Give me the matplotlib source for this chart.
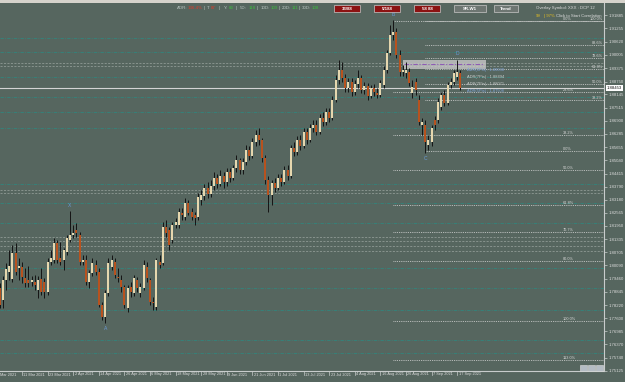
import matplotlib
matplotlib.use("Agg")
import matplotlib.pyplot as plt
import matplotlib.transforms as mtransforms
from matplotlib.patches import Rectangle
import pandas as pd

W, H = 625, 382
BG = "#56665f"

# GBPAUD daily candles, 2 Mar .. 20 Sep 2021
opens = [
    1.7903, 1.7846, 1.7940, 1.7978, 1.7945, 1.8068, 1.7997, 1.8002, 1.7950, 1.7940,
    1.7931, 1.7931, 1.7893, 1.7945, 1.7931, 1.7884, 1.8025, 1.8035, 1.8115, 1.8044,
    1.8035, 1.8072, 1.8129, 1.8152, 1.8176, 1.8152, 1.8025, 1.8035, 1.7931, 1.7973,
    1.8011, 1.7978, 1.7823, 1.7766, 1.7879, 1.8002, 1.8025, 1.7954, 1.7940, 1.7907,
    1.7808, 1.7907, 1.7879, 1.7940, 1.7879, 1.7903, 1.8002, 1.7940, 1.7837, 1.7813,
    1.8025, 1.8020, 1.8190, 1.8176, 1.8129, 1.8199, 1.8199, 1.8256, 1.8237, 1.8303,
    1.8261, 1.8247, 1.8237, 1.8317, 1.8336, 1.8374, 1.8346, 1.8383, 1.8421, 1.8393,
    1.8430, 1.8402, 1.8449, 1.8421, 1.8468, 1.8506, 1.8458, 1.8496, 1.8553, 1.8524,
    1.8590, 1.8623, 1.8600, 1.8515, 1.8411, 1.8341, 1.8397, 1.8374, 1.8421, 1.8402,
    1.8458, 1.8430, 1.8562, 1.8543, 1.8600, 1.8571, 1.8637, 1.8600, 1.8656, 1.8670,
    1.8637, 1.8703, 1.8685, 1.8732, 1.8703, 1.8788, 1.8882, 1.8930, 1.8892, 1.8845,
    1.8873, 1.8826, 1.8864, 1.8892, 1.8835, 1.8854, 1.8807, 1.8845, 1.8821, 1.8812,
    1.8859, 1.8930, 1.9010, 1.9094, 1.9109, 1.9000, 1.8920, 1.8915, 1.8920, 1.8821,
    1.8873, 1.8788, 1.8670, 1.8670, 1.8576, 1.8590, 1.8694, 1.8694, 1.8755, 1.8812,
    1.8774, 1.8859, 1.8873, 1.8897, 1.8915,
]
closes = [
    1.7823, 1.7940, 1.7992, 1.8006, 1.8068, 1.7978, 1.8006, 1.7954, 1.7926, 1.7926,
    1.7940, 1.7917, 1.7940, 1.7884, 1.7884, 1.8025, 1.8044, 1.8115, 1.8035, 1.8025,
    1.8082, 1.8138, 1.8152, 1.8162, 1.8162, 1.8025, 1.8035, 1.7931, 1.7973, 1.8020,
    1.7978, 1.7823, 1.7766, 1.7879, 1.8020, 1.8035, 1.7964, 1.7950, 1.7907, 1.7823,
    1.7903, 1.7884, 1.7950, 1.7903, 1.7907, 1.8011, 1.7950, 1.7837, 1.7832, 1.8035,
    1.8011, 1.8190, 1.8162, 1.8105, 1.8199, 1.8214, 1.8261, 1.8247, 1.8303, 1.8256,
    1.8237, 1.8232, 1.8331, 1.8341, 1.8374, 1.8346, 1.8383, 1.8421, 1.8393, 1.8430,
    1.8402, 1.8449, 1.8421, 1.8468, 1.8506, 1.8458, 1.8496, 1.8553, 1.8524, 1.8590,
    1.8623, 1.8600, 1.8515, 1.8411, 1.8341, 1.8397, 1.8374, 1.8421, 1.8402, 1.8458,
    1.8430, 1.8562, 1.8543, 1.8600, 1.8571, 1.8637, 1.8600, 1.8656, 1.8670, 1.8637,
    1.8703, 1.8685, 1.8732, 1.8703, 1.8788, 1.8882, 1.8930, 1.8892, 1.8845, 1.8873,
    1.8826, 1.8864, 1.8892, 1.8835, 1.8854, 1.8807, 1.8845, 1.8826, 1.8812, 1.8868,
    1.8930, 1.9010, 1.9094, 1.9109, 1.9000, 1.8920, 1.8930, 1.8930, 1.8868, 1.8849,
    1.8835, 1.8685, 1.8685, 1.8590, 1.8600, 1.8656, 1.8670, 1.8779, 1.8812, 1.8774,
    1.8859, 1.8873, 1.8915, 1.8920, 1.8845,
]
highs = [
    1.7926, 1.7959, 1.8020, 1.8082, 1.8105, 1.8115, 1.8044, 1.8025, 1.7997, 1.8006,
    1.7959, 1.7964, 1.7959, 1.7997, 1.7950, 1.8044, 1.8082, 1.8138, 1.8129, 1.8119,
    1.8091, 1.8152, 1.8265, 1.8199, 1.8209, 1.8166, 1.8058, 1.8058, 1.7988, 1.8044,
    1.8035, 1.7997, 1.7837, 1.7893, 1.8044, 1.8058, 1.8044, 1.7997, 1.7964, 1.7917,
    1.7917, 1.7931, 1.7964, 1.7954, 1.7926, 1.8035, 1.8025, 1.7950, 1.7860, 1.8044,
    1.8058, 1.8214, 1.8223, 1.8190, 1.8214, 1.8232, 1.8279, 1.8279, 1.8327, 1.8317,
    1.8279, 1.8261, 1.8350, 1.8364, 1.8393, 1.8402, 1.8411, 1.8449, 1.8440, 1.8458,
    1.8449, 1.8468, 1.8468, 1.8482, 1.8529, 1.8515, 1.8515, 1.8576, 1.8571, 1.8609,
    1.8647, 1.8656, 1.8609, 1.8529, 1.8430, 1.8411, 1.8421, 1.8440, 1.8440, 1.8477,
    1.8482, 1.8576, 1.8590, 1.8619, 1.8623, 1.8656, 1.8656, 1.8675, 1.8694, 1.8694,
    1.8722, 1.8732, 1.8751, 1.8751, 1.8807, 1.8906, 1.8977, 1.8967, 1.8911, 1.8892,
    1.8892, 1.8882, 1.8930, 1.8906, 1.8873, 1.8868, 1.8859, 1.8864, 1.8845, 1.8882,
    1.8948, 1.9024, 1.9141, 1.9165, 1.9127, 1.9024, 1.8953, 1.8967, 1.8939, 1.8882,
    1.8892, 1.8812, 1.8703, 1.8694, 1.8623, 1.8670, 1.8713, 1.8798, 1.8826, 1.8835,
    1.8873, 1.8892, 1.8930, 1.8977, 1.8930,
]
lows = [
    1.7808, 1.7808, 1.7893, 1.7940, 1.7931, 1.7964, 1.7940, 1.7926, 1.7907, 1.7907,
    1.7912, 1.7893, 1.7856, 1.7870, 1.7856, 1.7870, 1.8011, 1.8020, 1.8020, 1.8011,
    1.7988, 1.8058, 1.8119, 1.8138, 1.8143, 1.8011, 1.8011, 1.7917, 1.7903, 1.7959,
    1.7964, 1.7813, 1.7752, 1.7738, 1.7865, 1.7988, 1.7950, 1.7931, 1.7884, 1.7808,
    1.7790, 1.7860, 1.7865, 1.7884, 1.7860, 1.7893, 1.7931, 1.7823, 1.7799, 1.7799,
    1.7997, 1.8011, 1.8143, 1.8082, 1.8115, 1.8185, 1.8185, 1.8223, 1.8223, 1.8247,
    1.8223, 1.8199, 1.8223, 1.8294, 1.8317, 1.8327, 1.8331, 1.8364, 1.8374, 1.8383,
    1.8374, 1.8383, 1.8402, 1.8411, 1.8449, 1.8440, 1.8440, 1.8482, 1.8506, 1.8515,
    1.8571, 1.8576, 1.8496, 1.8393, 1.8261, 1.8294, 1.8355, 1.8364, 1.8383, 1.8393,
    1.8411, 1.8421, 1.8524, 1.8529, 1.8553, 1.8562, 1.8581, 1.8590, 1.8637, 1.8623,
    1.8628, 1.8666, 1.8670, 1.8685, 1.8694, 1.8779, 1.8864, 1.8873, 1.8826, 1.8826,
    1.8807, 1.8812, 1.8845, 1.8821, 1.8817, 1.8788, 1.8798, 1.8807, 1.8798, 1.8802,
    1.8845, 1.8915, 1.9000, 1.9071, 1.8986, 1.8901, 1.8901, 1.8892, 1.8854, 1.8798,
    1.8812, 1.8670, 1.8623, 1.8539, 1.8553, 1.8571, 1.8647, 1.8680, 1.8741, 1.8760,
    1.8765, 1.8845, 1.8859, 1.8882, 1.8835,
]
assert len(opens) == len(closes) == len(highs) == len(lows) == 145

bar_idx = list(range(1, len(opens) + 1))  # business days counted from 1 Mar 2021
dates = pd.bdate_range("2021-03-01", periods=len(opens) + 1)

price_ticks = [
    1.91885, 1.91255, 1.90620, 1.90005, 1.89375, 1.88750, 1.88145, 1.87515,
    1.86900, 1.86285, 1.85655, 1.85040, 1.84415, 1.83790, 1.83180, 1.82565,
    1.81950, 1.81335, 1.80705, 1.80090, 1.79460, 1.78845, 1.78220, 1.77600,
    1.76985, 1.76370, 1.75740, 1.75125,
]
current_price = 1.88453

# support / resistance lines across the whole chart
sr_teal = [1.9080, 1.9014, 1.8897, 1.8802, 1.8732, 1.8656, 1.8393, 1.8303,
           1.8209, 1.7997, 1.7903, 1.7799, 1.7658, 1.7597]
sr_gray = [1.8962, 1.8948, 1.8364, 1.8350, 1.8143, 1.8124, 1.8100, 1.8077]

# fibonacci levels (retracement B->C and projection from B)
fib_right_levels = [1.9160, 1.9047, 1.8986, 1.8934, 1.8864, 1.8788, 1.8548]
fib_right_labels = ["100.0%", "88.6%", "78.6%", "61.8%", "50.0%", "38.2%", "0.0%"]
fib_left_levels = [1.9160, 1.8826, 1.8623, 1.8458, 1.8294, 1.8166, 1.8030, 1.7747, 1.7564]
fib_left_labels = ["0.0%", "23.6%", "38.2%", "50.0%", "61.8%", "70.7%", "80.0%", "100.0%", "113.0%"]

# zigzag pattern points
pattern_names = ["X", "A", "B", "C", "D"]
pattern_bars = [23, 34, 124, 134, 144]
pattern_is_high = [True, False, True, False, True]

adr_texts = ["ADR(5Pts) : 1.89038", "ADR(7Pts) : 1.88494", "ADR(7Pts) : 1.88071", "ADR(5Pts) : 1.87508"]
adr_prices = [1.8930, 1.8897, 1.8864, 1.8831]
adr_colors = ["#7fa3d8", "#c9cccc", "#c9cccc", "#7fa3d8"]

plt.rcParams["font.family"] = ["Liberation Sans", "DejaVu Sans"]

fig = plt.figure(figsize=(W / 100, H / 100), dpi=100, facecolor=BG)


def fx(x):
    return x / W


def fy(y):
    return 1 - y / H


ax = fig.add_axes([0, fy(371), fx(604), fy(3) - fy(371)], facecolor=BG)
ax.set_xlim(1.125, 189.9)
ax.set_ylim(1.75118, 1.92451)

# S/R lines
for p in sr_teal:
    ax.axhline(p, color="#32857c", lw=0.6, dashes=(4, 1.5, 1, 1.5), zorder=1)
for p in sr_gray:
    ax.axhline(p, color="#9aa49f", lw=0.5, dashes=(3, 2), zorder=1)

# fibonacci
for p, lab in zip(fib_right_levels, fib_right_labels):
    ax.hlines(p, 134, 190, color="#d8d8d8", lw=0.6, linestyles=(0, (1, 1.2)), zorder=2)
    if lab == "0.0%":
        ax.text(177, p, lab, fontsize=2.8, color="#d8d8d8", ha="left", va="bottom")
    else:
        ax.text(189.6, p, lab, fontsize=2.8, color="#d8d8d8", ha="right", va="bottom")
for p, lab in zip(fib_left_levels, fib_left_labels):
    ax.hlines(p, 124, 190, color="#d8d8d8", lw=0.6, linestyles=(0, (1, 1.2)), zorder=2)
    ax.text(177, p, lab, fontsize=2.8, color="#d8d8d8", ha="left", va="bottom")

# current price line
ax.axhline(current_price, color="#d4d4d4", lw=0.8, zorder=2)

# gray box with purple line
ax.add_patch(Rectangle((127, 1.8934), 26, 0.0043, facecolor="#c9c9c9", alpha=0.8,
                       edgecolor="none", zorder=3))
ax.hlines(1.8958, 127.5, 152, color="#8e5cb4", lw=0.8, linestyles=(0, (4, 1.5, 1, 1.5)), zorder=4)

# candles
ax.vlines(bar_idx, lows, highs, color="#141414", lw=0.7, zorder=5)
bottoms = [min(o, c) for o, c in zip(opens, closes)]
heights = [max(abs(c - o), 0.0003) for o, c in zip(opens, closes)]
colors = ["#e6d7ae" if c >= o else "#b8521e" for o, c in zip(opens, closes)]
ax.bar(bar_idx, heights, bottom=bottoms, width=0.62, color=colors, zorder=6, linewidth=0)

# pattern letters
for name, b, up in zip(pattern_names, pattern_bars, pattern_is_high):
    p = highs[b - 1] if up else lows[b - 1]
    ax.annotate(name, (b, p), xytext=(0, 2.5 if up else -2.5), textcoords="offset points",
                ha="center", va="bottom" if up else "top", fontsize=3.6, color="#6b9ad6")

for t, p, c in zip(adr_texts, adr_prices, adr_colors):
    ax.text(147, p, t, fontsize=2.9, color=c, ha="left", va="center", zorder=7)

# axes styling
for s in ["left", "top"]:
    ax.spines[s].set_visible(False)
for s in ["right", "bottom"]:
    ax.spines[s].set_color("#c8cccc")
    ax.spines[s].set_linewidth(0.8)
ax.yaxis.tick_right()
ax.set_yticks(price_ticks)
ax.set_yticklabels([f"{v:.5f}" for v in price_ticks])
ax.tick_params(axis="y", length=2, width=0.5, color="#c8cccc", labelsize=3.1,
               labelcolor="#dcdcdc", pad=1.5)
ax.set_xticks([])

# date labels: every 8 bars, text starts just right of the tick
xtrans = ax.get_xaxis_transform()
lab_trans = mtransforms.offset_copy(xtrans, fig=fig, x=1.5, y=-1.5, units="dots")
for k in range(0, len(dates), 8):
    d = dates[k]
    label = f"{d.day} {d.strftime('%b %Y')}"
    if k == 0:
        # first label is cut by the left edge in the screenshot
        fig.text(fx(0.5), fy(373.5), d.strftime("%b %Y"), fontsize=2.8,
                 color="#dcdcdc", ha="left", va="top")
        continue
    ax.plot([k, k], [0, -0.011], transform=xtrans, color="#c8cccc", lw=0.5, clip_on=False)
    ax.text(k, 0, label, transform=lab_trans, fontsize=2.8,
            color="#dcdcdc", ha="left", va="top", clip_on=False)

# current price tag on the axis
fig.text(fx(607), fy(88), f"{current_price:.5f}", fontsize=3.1, color="#111111",
         ha="left", va="center",
         bbox=dict(boxstyle="square,pad=0.25", facecolor="white", edgecolor="none"))

# toolbar strip at the very top
fig.add_artist(Rectangle((0, fy(2.5)), 1, 1 - fy(2.5), transform=fig.transFigure,
                         facecolor="#d6d3cc", edgecolor="none"))

# ADR header
header = [("ADR:", 177, "#b8c4c0"), ("136.4%", 188, "#e03a2a"), ("|", 204, "#b8c4c0"),
          ("T:", 207, "#b8c4c0"), ("87", 211, "#e03a2a"), ("|", 219, "#b8c4c0"),
          ("Y:", 224, "#b8c4c0"), ("83", 229, "#3cc03c"), ("|", 236, "#b8c4c0"),
          ("5D:", 240, "#b8c4c0"), ("118", 249, "#3cc03c"), ("|", 257, "#b8c4c0"),
          ("10D:", 261, "#b8c4c0"), ("109", 271, "#3cc03c"), ("|", 279, "#b8c4c0"),
          ("20D:", 282, "#b8c4c0"), ("111", 292, "#3cc03c"), ("|", 299, "#b8c4c0"),
          ("30D:", 302, "#b8c4c0"), ("108", 312, "#3cc03c")]
for t, x, c in header:
    fig.text(fx(x), fy(8), t, fontsize=3.2, color=c, ha="left", va="center")

# buttons
buttons = [("33/88", 334, 360, "#8c1212"), ("5/188", 374, 400, "#8c1212"),
           ("58 88", 414, 440, "#8c1212"), ("SR-W1", 454, 486, "#6e7672"),
           ("Trend", 494, 518, "#6e7672")]
for t, x0, x1, c in buttons:
    fig.add_artist(Rectangle((fx(x0), fy(12)), fx(x1 - x0), fy(5) - fy(12),
                             transform=fig.transFigure, facecolor=c,
                             edgecolor="#c8c8c8", lw=0.5))
    fig.text(fx((x0 + x1) / 2), fy(8.5), t, fontsize=3.2, color="white",
             ha="center", va="center", fontweight="bold")

fig.text(fx(536), fy(8), "Overlay Symbol: XXX : DCP 12", fontsize=3.1, color="#dcdcdc",
         ha="left", va="center")
fig.text(fx(536), fy(16), "99", fontsize=3.1, color="#e8c020", ha="left", va="center")
fig.text(fx(544), fy(16), "| 97%", fontsize=3.1, color="#e8c020", ha="left", va="center")
fig.text(fx(556), fy(16), "Click to Start Correlation", fontsize=3.1, color="#dcdcdc",
         ha="left", va="center")

# small zoom buttons bottom right
for x0 in (580, 588, 596):
    fig.add_artist(Rectangle((fx(x0), fy(371)), fx(7), fy(365) - fy(371),
                             transform=fig.transFigure, facecolor="#b4bcc4",
                             edgecolor="#e0e0e0", lw=0.4))

fig.savefig("out.png", dpi=100, facecolor=BG)
